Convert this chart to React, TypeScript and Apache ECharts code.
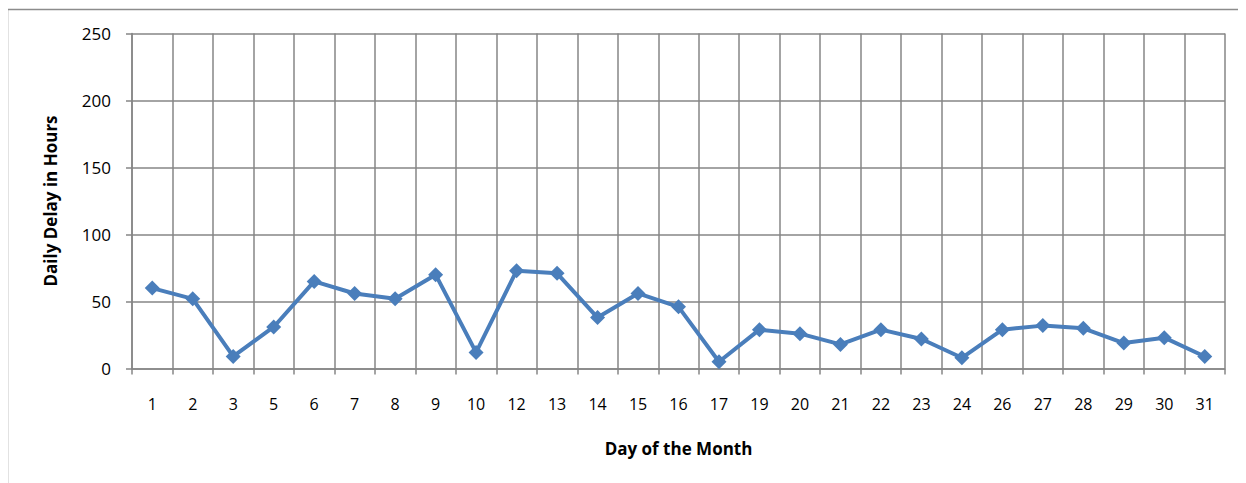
import React, { useEffect, useRef } from "react";
import * as echarts from "echarts";

const days = ["1","2","3","5","6","7","8","9","10","12","13","14","15","16","17","19","20","21","22","23","24","26","27","28","29","30","31"];
const delays = [60,52,9,31,65,56,52,70,12,73,71,38,56,46,5,29,26,18,29,22,8,29,32,30,19,23,9];
const yTicks = { min: 0, max: 250, interval: 50 };

export default function App() {
  const ref = useRef<HTMLDivElement>(null);
  useEffect(() => {
    if (!ref.current) return;
    const chart = echarts.init(ref.current, null, { renderer: "svg" });
    const font = "'Open Sans', sans-serif";
    chart.setOption({
      animation: false,
      backgroundColor: "#ffffff",
      textStyle: { fontFamily: font },
      graphic: [
        {
          type: "rect",
          shape: { x: -0.5, y: 1.5, width: 1260, height: 500 },
          style: { fill: "none", stroke: "#8c8c8c", lineWidth: 1.5 },
          silent: true,
        },
      ],
      grid: { left: 124, right: 21, top: 25.5, bottom: 114.5, containLabel: false },
      xAxis: {
        type: "category",
        data: days,
        boundaryGap: true,
        name: "Day of the Month",
        nameLocation: "middle",
        nameGap: 71,
        nameTextStyle: { fontFamily: font, fontWeight: "bold", fontSize: 17, color: "#000" },
        axisLine: { show: true, lineStyle: { color: "#868686", width: 1.5 } },
        axisTick: { show: true, interval: 0, length: 6, lineStyle: { color: "#868686", width: 1.5 } },
        axisLabel: { interval: 0, color: "#000", fontSize: 16, fontFamily: font, margin: 27 },
        splitLine: { show: true, interval: 0, lineStyle: { color: "#868686", width: 1.5 } },
      },
      yAxis: {
        type: "value",
        min: yTicks.min,
        max: yTicks.max,
        interval: yTicks.interval,
        name: "Daily Delay in Hours",
        nameLocation: "middle",
        nameGap: 73,
        nameRotate: 90,
        nameTextStyle: { fontFamily: font, fontWeight: "bold", fontSize: 17, color: "#000" },
        axisLine: { show: true, lineStyle: { color: "#868686", width: 1.5 } },
        axisTick: { show: true, length: 6, lineStyle: { color: "#868686", width: 1.5 } },
        axisLabel: { color: "#000", fontSize: 17, fontFamily: font, margin: 21 },
        splitLine: { show: true, lineStyle: { color: "#868686", width: 1.5 } },
      },
      series: [
        {
          type: "line",
          data: delays,
          symbol: "diamond",
          symbolSize: 15,
          lineStyle: { color: "#4a7ebb", width: 4 },
          itemStyle: { color: "#4a7ebb" },
        },
      ],
    });
    return () => chart.dispose();
  }, []);
  return <div ref={ref} style={{ width: 1238, height: 475 }} />;
}
